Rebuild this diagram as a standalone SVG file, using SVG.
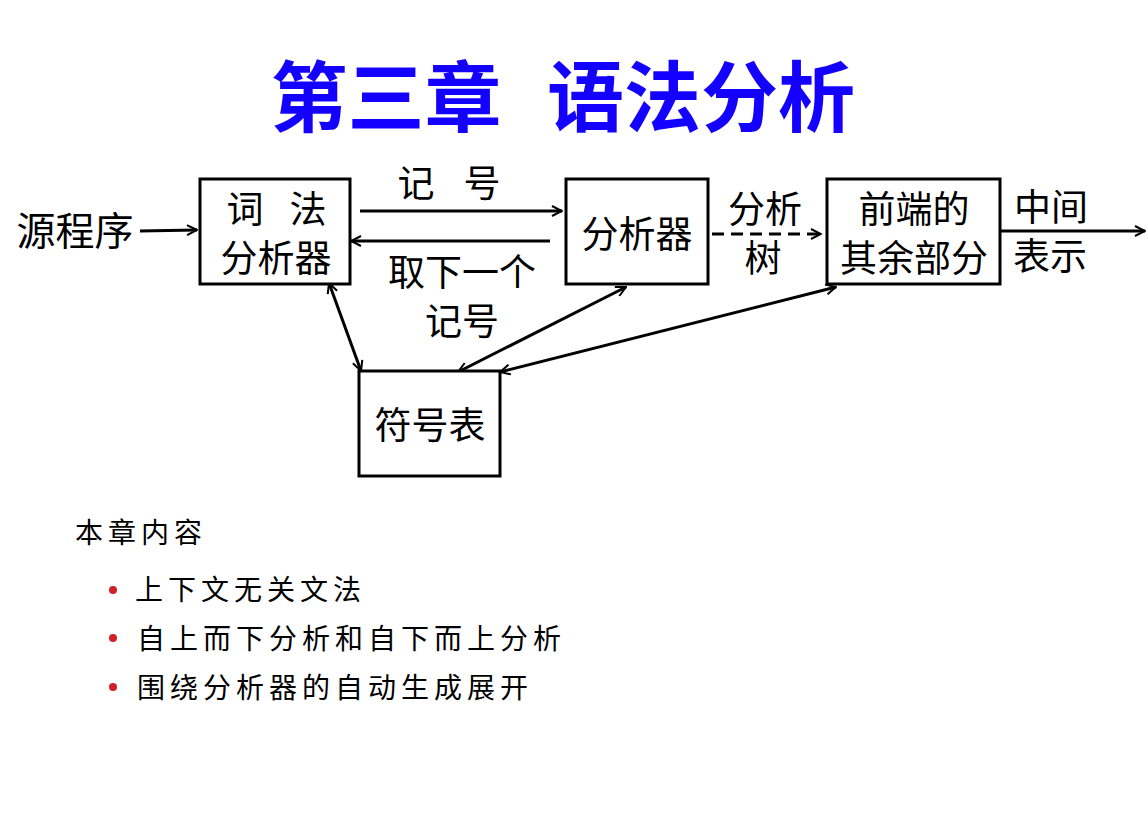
<svg xmlns="http://www.w3.org/2000/svg" width="1148" height="814" viewBox="0 0 1148 814">
<style>
.box{fill:#fff;stroke:#000;stroke-width:3}
.t{font-family:"Noto Sans CJK SC","Noto Sans",sans-serif;fill:#000;dominant-baseline:central}
.lbl{font-size:37px;text-anchor:middle}
.ln{stroke:#000;stroke-width:3;fill:none}
.list{font-size:28px;letter-spacing:5px}
.ttl{font-size:77px;font-weight:bold;fill:#1400ff;text-anchor:middle}
</style>
<defs>
<marker id="ah" viewBox="0 0 12 12" refX="11" refY="6" markerWidth="12" markerHeight="12" markerUnits="userSpaceOnUse" orient="auto-start-reverse">
<path d="M1,1 L11,6 L1,11" fill="none" stroke="#000" stroke-width="2"/>
</marker>
</defs>
<rect width="1148" height="814" fill="#fff"/>
<g id="title">
<text class="t ttl" x="386" y="92">第三章</text>
<text class="t ttl" x="701" y="92">语法分析</text>
</g>
<g id="connectors">
<line class="ln" x1="140" y1="231" x2="197" y2="230" marker-end="url(#ah)"/>
<line class="ln" x1="360" y1="211" x2="562" y2="211" marker-end="url(#ah)"/>
<line class="ln" x1="550" y1="241" x2="351" y2="241" marker-end="url(#ah)"/>
<line class="ln" x1="712" y1="234" x2="821" y2="234" stroke-dasharray="12,7" marker-end="url(#ah)"/>
<line class="ln" x1="1000" y1="231" x2="1145" y2="231" marker-end="url(#ah)"/>
<line class="ln" x1="329" y1="283" x2="361" y2="371" marker-start="url(#ah)" marker-end="url(#ah)"/>
<line class="ln" x1="626" y1="287" x2="458" y2="372" marker-start="url(#ah)" marker-end="url(#ah)"/>
<line class="ln" x1="836" y1="287" x2="500" y2="372" marker-start="url(#ah)" marker-end="url(#ah)"/>
</g>
<g id="src"><text class="t lbl" x="75" y="228" style="font-size:39px">源程序</text></g>
<g id="lexer">
<rect class="box" x="200" y="179" width="150" height="105"/>
<text class="t lbl" x="245" y="207">词</text>
<text class="t lbl" x="308" y="207">法</text>
<text class="t lbl" x="276" y="256">分析器</text>
</g>
<g id="lbl-token">
<text class="t lbl" x="416" y="181">记</text>
<text class="t lbl" x="482" y="181">号</text>
</g>
<g id="lbl-next">
<text class="t lbl" x="462" y="270">取下一个</text>
<text class="t lbl" x="462" y="319">记号</text>
</g>
<g id="parser">
<rect class="box" x="566" y="179" width="142" height="105"/>
<text class="t lbl" x="637" y="232">分析器</text>
</g>
<g id="lbl-tree">
<text class="t lbl" x="765" y="207">分析</text>
<text class="t lbl" x="763" y="256">树</text>
</g>
<g id="frontend">
<rect class="box" x="827" y="179" width="173" height="105"/>
<text class="t lbl" x="914" y="207">前端的</text>
<text class="t lbl" x="914" y="256">其余部分</text>
</g>
<g id="lbl-ir">
<text class="t lbl" x="1051" y="205">中间</text>
<text class="t lbl" x="1050" y="254">表示</text>
</g>
<g id="symtab">
<rect class="box" x="359" y="371" width="141" height="105"/>
<text class="t lbl" x="430" y="423">符号表</text>
</g>
<g id="contents">
<text class="t list" x="75" y="531">本章内容</text>
<circle cx="113" cy="590" r="4" fill="#d0202a"/>
<circle cx="113" cy="638" r="4" fill="#d0202a"/>
<circle cx="113" cy="687" r="4" fill="#d0202a"/>
<text class="t list" x="135" y="588">上下文无关文法</text>
<text class="t list" x="137" y="637">自上而下分析和自下而上分析</text>
<text class="t list" x="137" y="686">围绕分析器的自动生成展开</text>
</g>
</svg>
